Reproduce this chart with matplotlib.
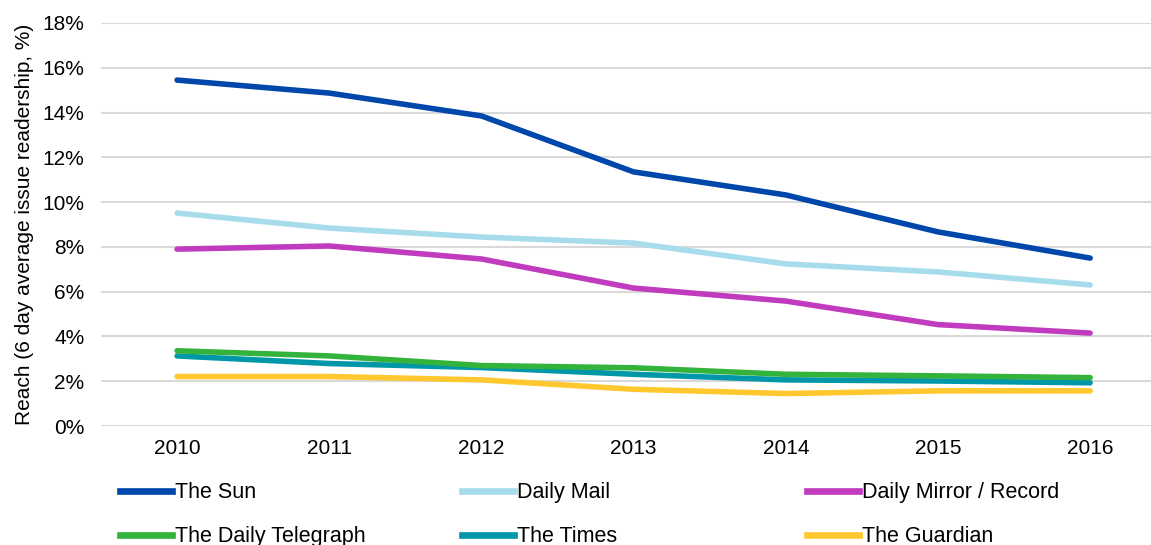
import matplotlib
matplotlib.use("Agg")
import matplotlib.pyplot as plt
from matplotlib.lines import Line2D
from matplotlib.ticker import FuncFormatter

plt.rcParams['font.family'] = ['Liberation Sans', 'DejaVu Sans']

years = ["2010", "2011", "2012", "2013", "2014", "2015", "2016"]
series_names = ["The Sun", "Daily Mail", "Daily Mirror / Record",
                "The Daily Telegraph", "The Times", "The Guardian"]
the_sun = [15.45, 14.87, 13.85, 11.35, 10.32, 8.67, 7.5]
daily_mail = [9.51, 8.84, 8.44, 8.17, 7.24, 6.88, 6.3]
daily_mirror = [7.9, 8.04, 7.46, 6.16, 5.58, 4.53, 4.15]
telegraph = [3.36, 3.13, 2.7, 2.6, 2.31, 2.24, 2.16]
the_times = [3.13, 2.79, 2.61, 2.31, 2.06, 2.01, 1.93]
guardian = [2.21, 2.21, 2.06, 1.64, 1.45, 1.57, 1.57]
colors = ["#0047AB", "#A6DCEB", "#C03BBE", "#33B23C", "#0098A8", "#FFC82E"]

W, H = 1151, 545
fig = plt.figure(figsize=(W / 100, H / 100), dpi=100)
ax = fig.add_axes([101 / W, (H - 426) / H, (1151 - 101) / W, (426 - 23) / H])

data = [the_sun, daily_mail, daily_mirror, telegraph, the_times, guardian]
x = list(range(len(years)))
order = [5, 4, 3, 2, 1, 0]
for i in order:
    ax.plot(x, data[i], color=colors[i], lw=4.0, solid_capstyle='round',
            solid_joinstyle='round', zorder=4 if i == 3 else 3)

ax.set_ylim(0, 18)
ax.set_yticks(range(0, 19, 2))
ax.yaxis.set_major_formatter(FuncFormatter(lambda v, p: f"{int(v)}%"))
ax.set_xlim(-0.5, 6.4)
ax.set_xticks(x)
ax.set_xticklabels(years)
ax.grid(axis='y', color='#D9D9D9', lw=1.5)
ax.set_axisbelow(True)
for s in ax.spines.values():
    s.set_visible(False)
ax.tick_params(axis='both', length=0, labelsize=15, colors='#000000')
ax.tick_params(axis='x', pad=9)
ax.tick_params(axis='y', pad=12)
ax.set_ylabel("Reach (6 day average issue readership, %)", fontsize=15, labelpad=6)

# Legend: three columns of two rows
col_x = [114 / W, 456 / W, 801 / W]
for c in range(3):
    idxs = [c, c + 3]
    hs = [Line2D([0], [0], color=colors[j], lw=4.8) for j in idxs]
    fig.legend(hs, [series_names[j] for j in idxs], loc='upper left',
               bbox_to_anchor=(col_x[c], (H - 476) / H), frameon=False,
               fontsize=15.5, handlelength=2.4, handletextpad=0.15,
               labelspacing=1.05, borderaxespad=0, borderpad=0.3)

fig.savefig("out.png", dpi=100)
